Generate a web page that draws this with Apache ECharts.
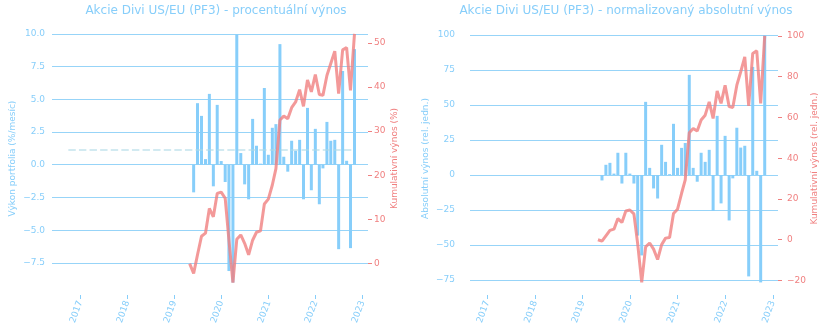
<!DOCTYPE html>
<html>
<head>
<meta charset="utf-8">
<script src="https://cdn.jsdelivr.net/npm/echarts@6/dist/echarts.min.js"></script>
<style>
  html, body { margin: 0; padding: 0; background: #ffffff; }
  #chart { width: 829px; height: 336px; }
</style>
</head>
<body>
<div id="chart"></div>
<script>
// ---- data ----
const lineDates = [
  '2019-04-30','2019-05-31','2019-06-30','2019-07-31','2019-08-31','2019-09-30','2019-10-31','2019-11-30','2019-12-31',
  '2020-01-31','2020-02-29','2020-03-31','2020-04-30','2020-05-31','2020-06-30','2020-07-31','2020-08-31','2020-09-30','2020-10-31','2020-11-30','2020-12-31',
  '2021-01-31','2021-02-28','2021-03-31','2021-04-30','2021-05-31','2021-06-30','2021-07-31','2021-08-31','2021-09-30','2021-10-31','2021-11-30','2021-12-31',
  '2022-01-31','2022-02-28','2022-03-31','2022-04-30','2022-05-31','2022-06-30','2022-07-31','2022-08-31','2022-09-30','2022-10-31'
];
const barDates = lineDates.slice(1);

// left chart: monthly % return (bars) and cumulative % (line)
const pctMonthly = [
  -2.11, 4.70, 3.73, 0.43, 5.41, -1.65, 4.57, 0.28,
  -1.32, -8.12, -9.00, 9.95, 0.89, -1.50, -2.64, 3.50, 1.45, 0.08, 5.86, 0.76,
  2.82, 3.10, 9.21, 0.61, -0.53, 1.83, 1.07, 1.90, -2.64, 4.34, -1.95, 2.74,
  -3.02, -0.28, 3.27, 1.83, 1.90, -6.45, 7.16, 0.30, -6.37, 8.83
];
const pctCumulative = [
  0.0, -2.2, 2.0, 6.2, 6.9, 12.5, 10.6, 15.9, 16.2,
  14.8, 5.3, -4.3, 5.5, 6.5, 4.6, 2.0, 5.3, 7.1, 7.4, 13.5, 14.6,
  17.8, 21.5, 32.5, 33.4, 32.8, 35.3, 36.6, 39.4, 35.6, 41.6, 38.9, 42.8,
  38.3, 38.1, 42.6, 45.3, 48.1, 38.5, 48.4, 48.9, 39.2, 52.0
];
const pctMean = 1.12;
const meanSpan = ['2016-09-30', '2022-10-31'];

// right chart: normalized absolute return (bars) and cumulative (line)
const absMonthly = [
  -3.9, 7.3, 8.7, 1.0, 15.9, -6.1, 15.9, 1.0,
  -6.1, -43.3, -57.5, 52.3, 5.1, -9.6, -16.8, 21.6, 9.4, 0.6, 36.6, 5.1,
  19.4, 22.9, 71.6, 5.1, -4.8, 15.9, 9.4, 18.0, -25.7, 42.3, -20.3, 28.0,
  -32.5, -2.4, 33.8, 19.6, 20.9, -72.5, 77.3, 3.0, -76.8, 100.0
];
const absCumulative = [
  0.0, -0.7, 1.9, 4.6, 5.2, 10.4, 8.5, 14.1, 14.6,
  12.7, -2.0, -20.9, -3.5, -1.6, -4.6, -9.7, -2.4, 0.8, 1.1, 12.9, 15.0,
  22.8, 29.4, 52.5, 54.6, 53.3, 58.7, 61.1, 67.6, 59.5, 73.0, 66.9, 75.8,
  65.3, 64.9, 75.8, 82.4, 89.7, 65.6, 91.4, 92.7, 66.9, 100.0
];

// tick labels
const yearTicks = ['2017-01-01','2018-01-01','2019-01-01','2020-01-01','2021-01-01','2022-01-01','2023-01-01'];
const pctLeftTicks = [-7.5, -5, -2.5, 0, 2.5, 5, 7.5, 10];
const pctRightTicks = [0, 10, 20, 30, 40, 50];
const absLeftTicks = [-75, -50, -25, 0, 25, 50, 75, 100];
const absRightTicks = [-20, 0, 20, 40, 60, 80, 100];

const titles = ['Akcie Divi US/EU (PF3) - procentuální výnos', 'Akcie Divi US/EU (PF3) - normalizovaný absolutní výnos'];
const axisNames = ['Výkon portfolia (%/mesíc)', 'Kumulativní výnos (%)', 'Absolutní výnos (rel. jedn.)', 'Kumulativní výnos (rel. jedn.)'];

// ---- styling ----
const BLUE = '#87CEFA';
const CORAL = '#F08080';
const GRID = '#97d4f8';
const FONT = 'DejaVu Sans';
const minus = v => String(v).replace('-', '\u2212');
const t = d => Date.parse(d); // ISO date -> ms (UTC)

function pair(dates, vals) { return vals.map((v, i) => [t(dates[i]), v]); }

function xAxis(gridIndex, min, max) {
  const ticks = yearTicks.map(t);
  return {
    type: 'value', gridIndex, min: t(min), max: t(max), position: 'bottom',
    axisLine: { show: false, onZero: false },
    splitLine: { show: false },
    axisTick: { show: true, length: 4, customValues: ticks, lineStyle: { color: BLUE } },
    axisLabel: {
      customValues: ticks, rotate: 70, margin: 6, color: BLUE, fontSize: 9, fontFamily: FONT,
      formatter: v => String(new Date(v).getUTCFullYear())
    }
  };
}

function yAxis(gridIndex, min, max, ticks, color, name, nameGap, position, fmt, showSplit, labelMargin) {
  return {
    type: 'value', gridIndex, min, max, position,
    name, nameLocation: 'middle', nameGap,
    nameTextStyle: { color, fontSize: 9, fontFamily: FONT },
    axisLine: { show: false, onZero: false },
    axisTick: { show: position === 'right', length: 4, customValues: ticks, lineStyle: { color } },
    axisLabel: { customValues: ticks, color, fontSize: 9, fontFamily: FONT, margin: labelMargin, formatter: fmt },
    splitLine: { show: showSplit, lineStyle: { color: GRID, width: 1 } }
  };
}

const chart = echarts.init(document.getElementById('chart'), null, { renderer: 'canvas' });

chart.setOption({
  animation: false,
  backgroundColor: '#ffffff',
  textStyle: { fontFamily: FONT },
  title: [
    { text: titles[0], left: 211, top: 0, textAlign: 'center', textStyle: { color: BLUE, fontSize: 12, fontWeight: 'normal', fontFamily: FONT } },
    { text: titles[1], left: 621, top: 0, textAlign: 'center', textStyle: { color: BLUE, fontSize: 12, fontWeight: 'normal', fontFamily: FONT } }
  ],
  grid: [
    { left: 52, top: 22, width: 316, height: 273 },
    { left: 470, top: 22, width: 308, height: 273 }
  ],
  xAxis: [
    xAxis(0, '2016-05-26', '2023-02-13'),
    xAxis(1, '2016-08-21', '2023-02-10')
  ],
  yAxis: [
    yAxis(0, -9.95, 10.9, pctLeftTicks, BLUE, axisNames[0], 35, 'left', v => minus(v.toFixed(1)), true, 7),
    yAxis(0, -7.1, 54.7, pctRightTicks, CORAL, axisNames[1], 22, 'right', v => minus(v), false, 6),
    yAxis(1, -85.8, 109.4, absLeftTicks, BLUE, axisNames[2], 40, 'left', v => minus(v), true, 15),
    yAxis(1, -27.1, 106.8, absRightTicks, CORAL, axisNames[3], 31, 'right', v => minus(v), false, 9)
  ],
  series: [
    {
      type: 'bar', xAxisIndex: 0, yAxisIndex: 0, barWidth: 3, z: 2,
      itemStyle: { color: BLUE }, data: pair(barDates, pctMonthly)
    },
    {
      type: 'line', xAxisIndex: 0, yAxisIndex: 0, symbol: 'none', z: 3, silent: true,
      lineStyle: { color: 'rgba(173,216,230,0.55)', width: 2, type: [7.4, 3.2] },
      data: meanSpan.map(d => [t(d), pctMean])
    },
    {
      type: 'line', xAxisIndex: 0, yAxisIndex: 1, symbol: 'none', z: 4,
      lineStyle: { color: CORAL, width: 3, opacity: 0.8 }, data: pair(lineDates, pctCumulative)
    },
    {
      type: 'bar', xAxisIndex: 1, yAxisIndex: 2, barWidth: 3, z: 2,
      itemStyle: { color: BLUE }, data: pair(barDates, absMonthly)
    },
    {
      type: 'line', xAxisIndex: 1, yAxisIndex: 3, symbol: 'none', z: 4,
      lineStyle: { color: CORAL, width: 3, opacity: 0.8 }, data: pair(lineDates, absCumulative)
    }
  ]
});
</script>
</body>
</html>
